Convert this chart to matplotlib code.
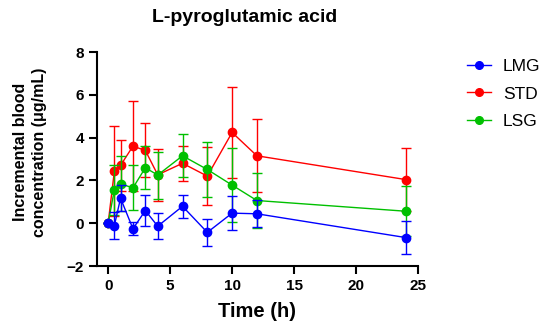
import matplotlib

matplotlib.use("Agg")
import matplotlib.pyplot as plt
from matplotlib.lines import Line2D

plt.rcParams["font.family"] = ["Liberation Sans", "DejaVu Sans"]

time_h = [0, 0.5, 1, 2, 3, 4, 6, 8, 10, 12, 24]

lmg = [0, -0.11, 1.17, -0.26, 0.59, -0.14, 0.79, -0.43, 0.47, 0.44, -0.67]
lmg_err = [0, 0.62, 0.6, 0.31, 0.73, 0.61, 0.54, 0.64, 0.81, 0.63, 0.75]

std = [0, 2.43, 2.70, 3.60, 3.40, 2.26, 2.80, 2.20, 4.24, 3.15, 2.04]
std_err = [0, 2.09, 1.21, 2.09, 1.26, 1.2, 0.83, 1.35, 2.12, 1.71, 1.48]

lsg = [0, 1.56, 1.84, 1.65, 2.59, 2.25, 3.15, 2.51, 1.78, 1.06, 0.56]
lsg_err = [0, 1.18, 1.28, 1.05, 1.0, 1.1, 1.0, 1.28, 1.74, 1.28, 1.17]

series = [
    ("LMG", lmg, lmg_err, "#0000ff", 4),
    ("STD", std, std_err, "#ff0000", 2),
    ("LSG", lsg, lsg_err, "#00c000", 3),
]

fig = plt.figure(figsize=(5.5, 3.32), dpi=100)
ax = fig.add_axes([97 / 550, 1 - 266 / 332, (418 - 97) / 550, (266 - 52) / 332])

handles = []
for name, vals, errs, color, z in series:
    ax.errorbar(
        time_h, vals, yerr=errs,
        color=color, marker="o", markersize=6, linewidth=1,
        elinewidth=1, capsize=3.5, capthick=1, zorder=z,
        clip_on=False,
    )
    handles.append(Line2D([], [], color=color, marker="o", markersize=5.5,
                          linewidth=1, label=name))

ax.set_xlim(-0.9, 25)
ax.set_ylim(-2, 8)
ax.set_xticks([0, 5, 10, 15, 20, 25])
ax.set_yticks([-2, 0, 2, 4, 6, 8])
for s in ["top", "right"]:
    ax.spines[s].set_visible(False)
for s in ["left", "bottom"]:
    ax.spines[s].set_linewidth(1.5)
ax.tick_params(width=1.5, length=6, labelsize=11)
for lbl in ax.get_xticklabels() + ax.get_yticklabels():
    lbl.set_fontweight("bold")

ax.set_xlabel("Time (h)", fontsize=14.5, fontweight="bold", labelpad=6)
fig.text(30 / 550, 1 - 152 / 332, "Incremental blood\nconcentration (μg/mL)",
         rotation=90, ha="center", va="center", multialignment="center",
         fontsize=11.5, fontweight="bold", linespacing=1.3)
fig.text(245 / 550, 1 - 17 / 332, "L-pyroglutamic acid", ha="center", va="center",
         fontsize=14, fontweight="bold")

ax.legend(handles=handles, loc="upper left", bbox_to_anchor=(1.105, 1.04),
          frameon=False, fontsize=12.5, handlelength=1.35, handletextpad=0.7,
          labelspacing=0.7)

fig.savefig("out.png", dpi=100)
